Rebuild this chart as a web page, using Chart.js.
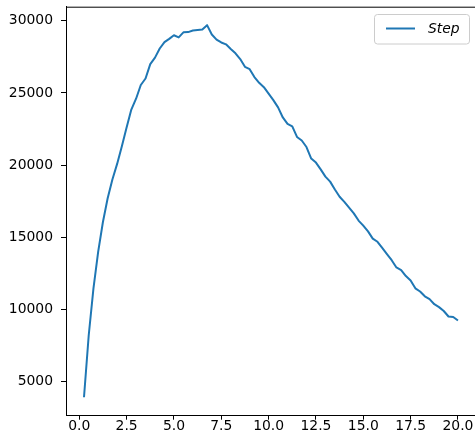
<!DOCTYPE html>
<html>
<head>
<meta charset="utf-8">
<script src="https://cdn.jsdelivr.net/npm/chart.js@4"></script>
<style>
html, body { margin: 0; padding: 0; background: #fff; }
</style>
</head>
<body>
<canvas id="myChart" width="475" height="445"></canvas>
<script>
const seriesName = 'Step';
const stepX = [
    0.25, 0.5, 0.75, 1.0, 1.25, 1.5, 1.75, 2.0, 2.25, 2.5,
    2.75, 3.0, 3.25, 3.5, 3.75, 4.0, 4.25, 4.5, 4.75, 5.0,
    5.25, 5.5, 5.75, 6.0, 6.25, 6.5, 6.75, 7.0, 7.25, 7.5,
    7.75, 8.0, 8.25, 8.5, 8.75, 9.0, 9.25, 9.5, 9.75, 10.0,
    10.25, 10.5, 10.75, 11.0, 11.25, 11.5, 11.75, 12.0, 12.25, 12.5,
    12.75, 13.0, 13.25, 13.5, 13.75, 14.0, 14.25, 14.5, 14.75, 15.0,
    15.25, 15.5, 15.75, 16.0, 16.25, 16.5, 16.75, 17.0, 17.25, 17.5,
    17.75, 18.0, 18.25, 18.5, 18.75, 19.0, 19.25, 19.5, 19.75, 20.0
];
const stepY = [
    3900, 8200, 11450, 14000, 16050, 17700, 19000, 20080, 21300, 22600,
    23850, 24600, 25550, 26000, 27000, 27450, 28080, 28520, 28750, 29000,
    28850, 29200, 29220, 29330, 29370, 29400, 29700, 29050, 28700, 28500,
    28370, 28050, 27750, 27350, 26810, 26650, 26100, 25700, 25400, 24950,
    24500, 24000, 23300, 22850, 22680, 21950, 21700, 21250, 20450, 20170,
    19700, 19200, 18850, 18300, 17800, 17450, 17050, 16650, 16150, 15800,
    15400, 14900, 14680, 14250, 13820, 13400, 12900, 12720, 12300, 12000,
    11450, 11230, 10900, 10700, 10350, 10150, 9880, 9500, 9460, 9220
];
const xTicks = [0, 2.5, 5, 7.5, 10, 12.5, 15, 17.5, 20];
const yTicks = [5000, 10000, 15000, 20000, 25000, 30000];

const tickFont = { family: 'DejaVu Sans', size: 13.9 };

// top spine + matplotlib-like legend box
const frameAndLegend = {
    id: 'frameAndLegend',
    afterDraw(chart) {
        const ctx = chart.ctx;
        const area = chart.chartArea;
        const ds = chart.data.datasets[0];
        ctx.save();
        ctx.strokeStyle = '#000';
        ctx.lineWidth = 1;
        ctx.beginPath();
        ctx.moveTo(area.left, area.top + 0.5);
        ctx.lineTo(area.right, area.top + 0.5);
        ctx.stroke();

        ctx.beginPath();
        ctx.roundRect(374.5, 14.5, 95, 29.5, 3);
        ctx.fillStyle = 'rgba(255,255,255,0.8)';
        ctx.fill();
        ctx.strokeStyle = '#cccccc';
        ctx.stroke();

        ctx.beginPath();
        ctx.moveTo(386, 28.5);
        ctx.lineTo(415, 28.5);
        ctx.strokeStyle = ds.borderColor;
        ctx.lineWidth = 2;
        ctx.stroke();

        ctx.fillStyle = '#000';
        ctx.font = 'italic 13.9px "DejaVu Sans"';
        ctx.textBaseline = 'middle';
        ctx.fillText(ds.label, 428, 29.5);
        ctx.restore();
    }
};

const ctx = document.getElementById('myChart');

new Chart(ctx, {
    type: 'line',
    data: {
        datasets: [
            {
                label: seriesName,
                data: stepX.map((x, i) => ({ x: x, y: stepY[i] })),
                borderColor: '#1f77b4',
                borderWidth: 2,
                borderJoinStyle: 'round',
                pointRadius: 0,
                fill: false,
                tension: 0
            }
        ]
    },
    options: {
        responsive: false,
        animation: false,
        devicePixelRatio: 1,
        layout: { padding: { top: 6.7, left: 0, right: 0, bottom: 0 } },
        scales: {
            x: {
                type: 'linear',
                min: -0.7,
                max: 20.9,
                afterBuildTicks: (s) => { s.ticks = xTicks.map(v => ({ value: v })); },
                afterFit: (s) => { s.height = 29.3; s.paddingLeft = 0; s.paddingRight = 0; },
                ticks: {
                    callback: (v) => Number(v).toFixed(1),
                    font: tickFont,
                    color: '#000',
                    padding: -2,
                    maxRotation: 0,
                    autoSkip: false
                },
                grid: { drawOnChartArea: false, drawTicks: true, tickLength: 4, color: '#000', lineWidth: 1 },
                border: { display: true, color: '#000', width: 1 }
            },
            y: {
                type: 'linear',
                min: 2620,
                max: 30980,
                afterBuildTicks: (s) => { s.ticks = yTicks.map(v => ({ value: v })); },
                afterFit: (s) => { s.width = 66; s.paddingTop = 0; s.paddingBottom = 0; },
                ticks: {
                    callback: (v) => String(v),
                    font: tickFont,
                    color: '#000',
                    padding: 8,
                    autoSkip: false
                },
                grid: { drawOnChartArea: false, drawTicks: true, tickLength: 5, color: '#000', lineWidth: 1 },
                border: { display: true, color: '#000', width: 1 }
            }
        },
        plugins: {
            legend: { display: false },
            tooltip: { enabled: false }
        }
    },
    plugins: [frameAndLegend]
});
</script>
</body>
</html>
